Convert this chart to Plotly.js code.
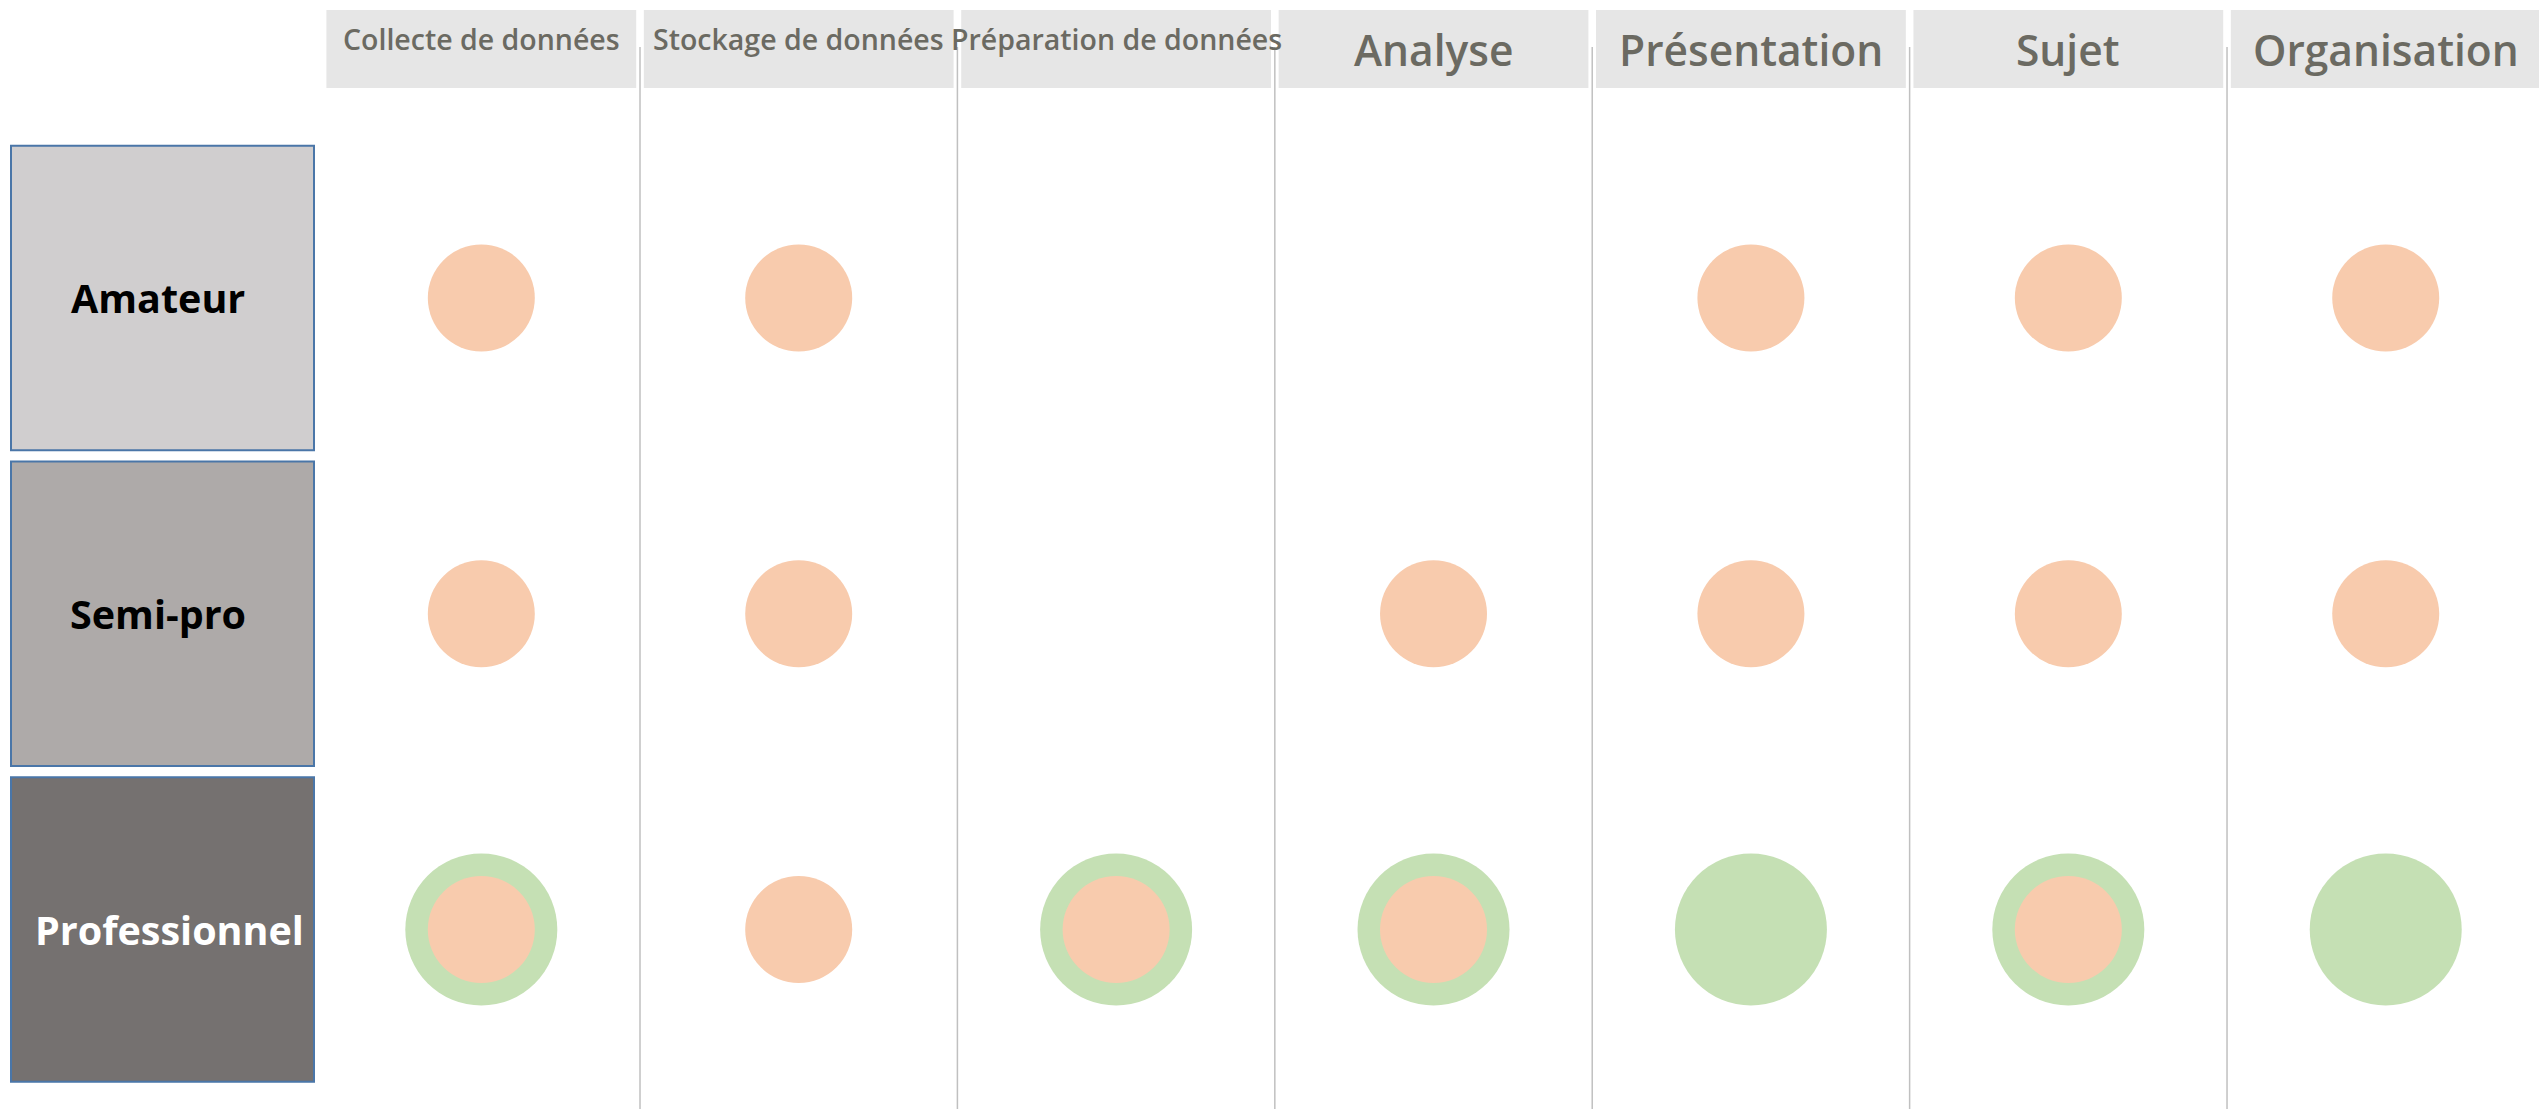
<!DOCTYPE html>
<html>
<head>
<meta charset="utf-8">
<script src="https://cdn.plot.ly/plotly-3.0.1.min.js"></script>
<style>html,body{margin:0;padding:0;background:#fff;}#chart{width:2539px;height:1109px;}</style>
</head>
<body>
<div id="chart"></div>
<script>
// ---- Data ----
const categories = ['Collecte de données', 'Stockage de données', 'Préparation de données', 'Analyse', 'Présentation', 'Sujet', 'Organisation'];
const levels = ['Amateur', 'Semi-pro', 'Professionnel'];
// 1 = circle present
const orangeAmateur = [1, 1, 0, 0, 1, 1, 1];
const orangeSemiPro = [1, 1, 0, 1, 1, 1, 1];
const orangePro     = [1, 1, 1, 1, 0, 1, 0];
const greenAmateur  = [0, 0, 0, 0, 0, 0, 0];
const greenSemiPro  = [0, 0, 0, 0, 0, 0, 0];
const greenPro      = [1, 0, 1, 1, 1, 1, 1];

// ---- Styles ----
const ORANGE = '#f8cbad';
const GREEN = '#c5e0b4';
const headerFill = '#e6e6e6';
const headerText = '#6b6a62';
const levelFill = ['#d0cecf', '#aeaaa9', '#757170'];
const levelText = ['#000000', '#000000', '#ffffff'];
const smallHeader = 3; // first 3 headers use smaller font

function collect(rowsFlags) {
  const xs = [], ys = [];
  rowsFlags.forEach((flags, r) => {
    flags.forEach((f, c) => { if (f) { xs.push(c); ys.push(r); } });
  });
  return {xs, ys};
}
const g = collect([greenAmateur, greenSemiPro, greenPro]);
const o = collect([orangeAmateur, orangeSemiPro, orangePro]);

const traces = [
  {type: 'scatter', mode: 'markers', x: g.xs, y: g.ys,
   marker: {size: 152, color: GREEN, line: {width: 0}}, hoverinfo: 'skip'},
  {type: 'scatter', mode: 'markers', x: o.xs, y: o.ys,
   marker: {size: 107, color: ORANGE, line: {width: 0}}, hoverinfo: 'skip'}
];

const shapes = [];
const annotations = [];
// vertical separators
for (let j = 0; j < categories.length - 1; j++) {
  shapes.push({type: 'line', xref: 'x', yref: 'paper', x0: j + 0.5, x1: j + 0.5, y0: 0, y1: 0.9576,
    line: {color: '#c0c0c0', width: 1.5}, layer: 'below'});
}
// header boxes + labels
categories.forEach((cat, j) => {
  shapes.push({type: 'rect', xref: 'x', yref: 'paper', x0: j - 0.488, x1: j + 0.488,
    y0: 0.9207, y1: 0.9910, fillcolor: headerFill, line: {width: 0}, layer: 'below'});
  const small = j < smallHeader;
  annotations.push({xref: 'x', yref: 'paper', x: j, y: small ? 0.9648 : 0.9558,
    xanchor: 'center', yanchor: 'middle', showarrow: false, text: cat,
    font: {family: 'Open Sans, sans-serif', size: small ? 28.5 : 42.5, color: headerText, weight: 600}});
});
// level boxes + labels
levels.forEach((lv, r) => {
  shapes.push({type: 'rect', xref: 'paper', yref: 'y', x0: 11 / 2539, x1: 314 / 2539,
    y0: r - 0.482, y1: r + 0.482, fillcolor: levelFill[r], line: {color: '#4a76a8', width: 2}, layer: 'below'});
  annotations.push({xref: 'paper', yref: 'y', x: (r === 2 ? 169 : 158) / 2539, y: r,
    xanchor: 'center', yanchor: 'middle', showarrow: false, text: lv,
    font: {family: 'Open Sans, sans-serif', size: 39.5, color: levelText[r], weight: 700}});
});

const layout = {
  width: 2539, height: 1109,
  margin: {l: 0, r: 0, t: 0, b: 0, pad: 0},
  paper_bgcolor: '#ffffff', plot_bgcolor: '#ffffff',
  showlegend: false,
  xaxis: {range: [-1.5164, 6.4829], visible: false, fixedrange: true},
  yaxis: {range: [2.5685, -0.9438], visible: false, fixedrange: true},
  shapes: shapes,
  annotations: annotations
};

Plotly.newPlot('chart', traces, layout, {displayModeBar: false, staticPlot: true});
</script>
</body>
</html>
